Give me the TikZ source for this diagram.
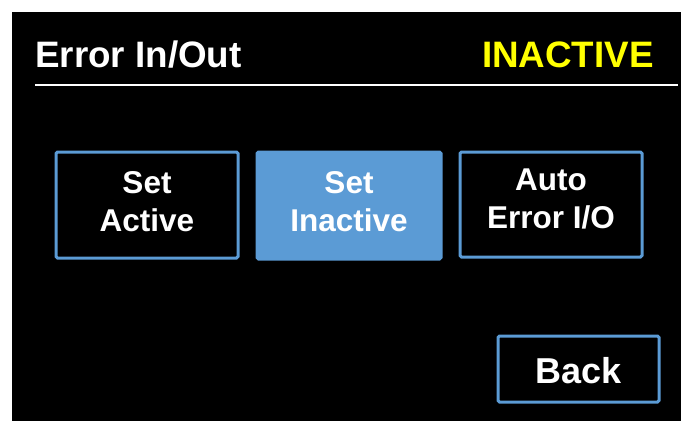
\documentclass[tikz,border=0pt]{standalone}
\usepackage{fontspec}
\setmainfont{Liberation Sans}
\definecolor{btnblue}{HTML}{5B9BD5}
\definecolor{hdryellow}{HTML}{FFFF00}
\tikzset{
  btnbox/.style={draw=btnblue, line width=3pt, fill=black, rounded corners=1.5pt,
    inner sep=0pt, anchor=north west},
  btnon/.style={btnbox, fill=btnblue},
  btntext/.style={text=white, font=\bfseries\fontsize{31.5}{38}\selectfont,
    align=center, inner sep=0pt, anchor=base},
  hdrtext/.style={font=\bfseries\fontsize{36.8}{44}\selectfont, inner sep=0pt},
}
\begin{document}
\begin{tikzpicture}[x=1pt, y=-1pt]
  \useasboundingbox (0,0) rectangle (681,421);
  % screen
  \fill[black] (12,12) rectangle (681,421);
  % header
  \node[hdrtext, anchor=base west, text=white] (title) at (35,67) {Error In/Out};
  \node[hdrtext, anchor=base east, text=hdryellow] (state) at (654,67) {INACTIVE};
  \coordinate (ruleL) at (35,85);
  \coordinate (ruleR) at (678,85);
  \draw[white, line width=2.5pt] (ruleL) -- (ruleR);
  % buttons
  \node[btnbox, minimum width=182pt, minimum height=106pt] (active) at (54.5,150.5) {};
  \node[btnon, minimum width=184pt, minimum height=107pt] (inactive) at (255.5,150.5) {};
  \node[btnbox, minimum width=182pt, minimum height=105pt] (auto) at (458.5,150.5) {};
  \node[btnbox, minimum width=161pt, minimum height=66pt] (back) at (496.5,334.5) {};
  % button labels (base anchor sits on the last line)
  \node[btntext] (activeL) at ([yshift=-26.5pt]active.center) {Set\\Active};
  \node[btntext] (inactiveL) at ([yshift=-26pt]inactive.center) {Set\\Inactive};
  \node[btntext] (autoL) at ([yshift=-24pt]auto.center) {Auto\\Error I/O};
  \node[btntext, font=\bfseries\fontsize{36}{42}\selectfont] (backL) at ([yshift=-14.5pt]back.center) {Back};
\end{tikzpicture}
\end{document}
